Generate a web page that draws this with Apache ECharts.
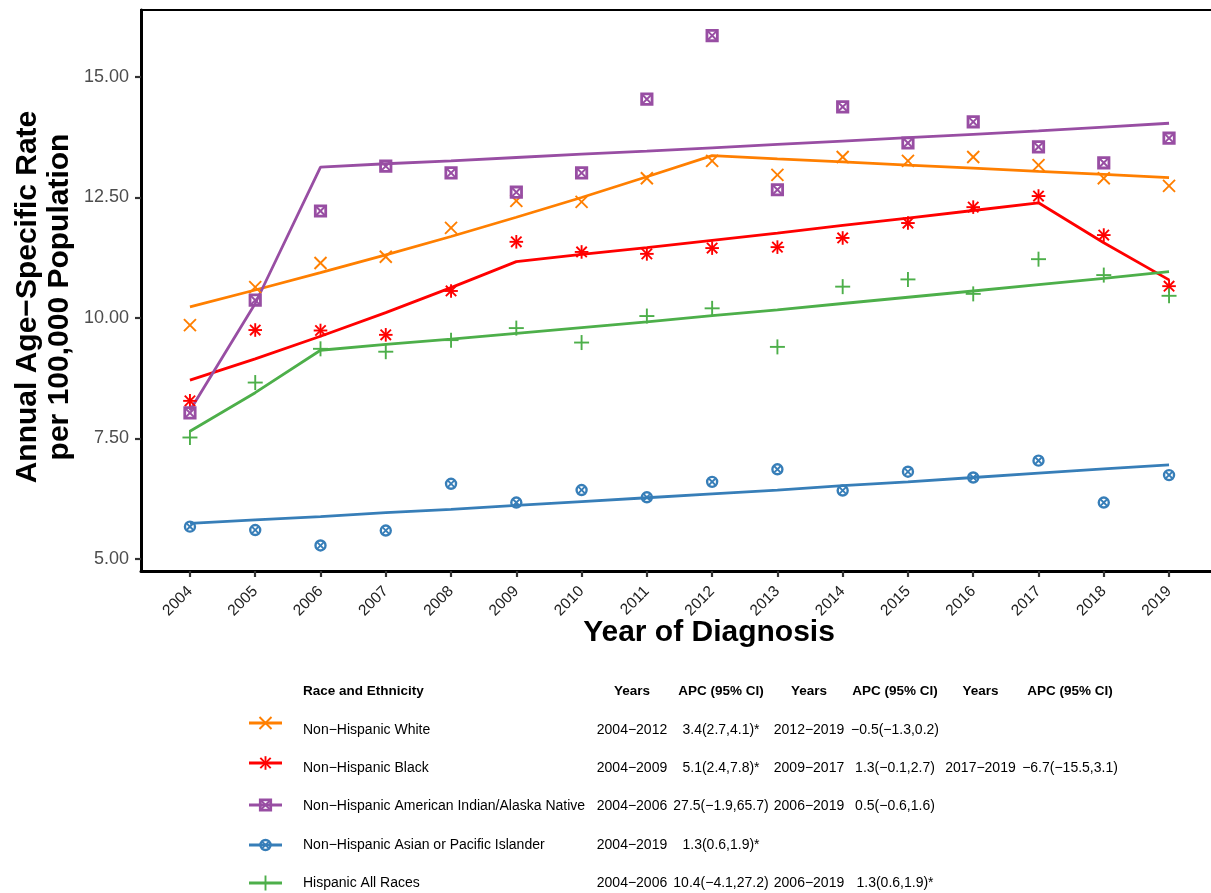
<!DOCTYPE html>
<html>
<head>
<meta charset="utf-8">
<script src="https://cdn.jsdelivr.net/npm/echarts@6/dist/echarts.min.js"></script>
<style>
  html, body { margin: 0; padding: 0; background: #fff; }
  #chart { width: 1211px; height: 893px; }
</style>
</head>
<body>
<div id="chart"></div>
<script>
// Years of diagnosis
const years = [2004, 2005, 2006, 2007, 2008, 2009, 2010, 2011, 2012, 2013, 2014, 2015, 2016, 2017, 2018, 2019];

// Observed annual age-specific rates per 100,000
const whiteRate = [9.85, 10.64, 11.14, 11.27, 11.87, 12.43, 12.41, 12.90, 13.26, 12.97, 13.34, 13.26, 13.34, 13.17, 12.90, 12.74];
const blackRate = [8.28, 9.75, 9.74, 9.65, 10.56, 11.58, 11.37, 11.33, 11.45, 11.47, 11.66, 11.97, 12.30, 12.53, 11.72, 10.66];
const aianRate  = [8.03, 10.37, 12.22, 13.15, 13.01, 12.61, 13.01, 14.54, 15.86, 12.66, 14.38, 13.63, 14.07, 13.55, 13.22, 13.73];
const apiRate   = [5.67, 5.60, 5.28, 5.59, 6.56, 6.17, 6.43, 6.28, 6.60, 6.86, 6.42, 6.81, 6.69, 7.04, 6.17, 6.74];
const hispRate  = [7.52, 8.66, 9.36, 9.30, 9.54, 9.79, 9.49, 10.04, 10.20, 9.40, 10.65, 10.80, 10.50, 11.22, 10.89, 10.46];

// Joinpoint-modelled rates
const whiteFit = [10.23, 10.58, 10.94, 11.31, 11.69, 12.09, 12.50, 12.93, 13.37, 13.30, 13.24, 13.17, 13.11, 13.04, 12.98, 12.91];
const blackFit = [8.71, 9.15, 9.62, 10.11, 10.63, 11.17, 11.32, 11.46, 11.61, 11.76, 11.92, 12.07, 12.23, 12.39, 11.56, 10.79];
const aianFit  = [8.08, 10.30, 13.13, 13.20, 13.26, 13.33, 13.40, 13.46, 13.53, 13.60, 13.67, 13.74, 13.81, 13.88, 13.96, 14.04];
const apiFit   = [5.74, 5.81, 5.88, 5.96, 6.03, 6.11, 6.19, 6.27, 6.35, 6.43, 6.52, 6.60, 6.69, 6.78, 6.87, 6.95];
const hispFit  = [7.65, 8.45, 9.33, 9.45, 9.56, 9.68, 9.80, 9.92, 10.05, 10.17, 10.30, 10.43, 10.56, 10.69, 10.82, 10.96];

// Axis ticks
const yTicks = [5, 7.5, 10, 12.5, 15];

// Legend / APC table rows
const groupNames = ['Non\u2212Hispanic White', 'Non\u2212Hispanic Black', 'Non\u2212Hispanic American Indian/Alaska Native', 'Non\u2212Hispanic Asian or Pacific Islander', 'Hispanic All Races'];
const seg1Years = ['2004\u22122012', '2004\u22122009', '2004\u22122006', '2004\u22122019', '2004\u22122006'];
const seg1Apc   = ['3.4(2.7,4.1)*', '5.1(2.4,7.8)*', '27.5(\u22121.9,65.7)', '1.3(0.6,1.9)*', '10.4(\u22124.1,27.2)'];
const seg2Years = ['2012\u22122019', '2009\u22122017', '2006\u22122019', '', '2006\u22122019'];
const seg2Apc   = ['\u22120.5(\u22121.3,0.2)', '1.3(\u22120.1,2.7)', '0.5(\u22120.6,1.6)', '', '1.3(0.6,1.9)*'];
const seg3Years = ['', '2017\u22122019', '', '', ''];
const seg3Apc   = ['', '\u22126.7(\u221215.5,3.1)', '', '', ''];
const headers   = ['Race and Ethnicity', 'Years', 'APC (95% CI)', 'Years', 'APC (95% CI)', 'Years', 'APC (95% CI)'];

const colors = ['#FF7F00', '#FF0000', '#984EA3', '#377EB8', '#4DAF4A'];
const shapes = ['x', 'asterisk', 'boxx', 'circx', 'plus'];
const observed = [whiteRate, blackRate, aianRate, apiRate, hispRate];
const fitted = [whiteFit, blackFit, aianFit, apiFit, hispFit];

const FONT = "'Liberation Sans', Arial, Helvetica, sans-serif";

function seg(x1, y1, x2, y2, color, w) {
  return { type: 'line', shape: { x1, y1, x2, y2 }, style: { stroke: color, lineWidth: w, fill: null } };
}

// Point glyphs in the style of R plotting symbols
function markerShapes(shape, color) {
  const out = [];
  if (shape === 'x') {
    const h = 6;
    out.push(seg(-h, -h, h, h, color, 1.9), seg(-h, h, h, -h, color, 1.9));
  } else if (shape === 'asterisk') {
    const h = 6.8, d = 5.2;
    out.push(seg(0, -h, 0, h, color, 1.9), seg(-h, 0, h, 0, color, 1.9));
    out.push(seg(-d, -d, d, d, color, 1.9), seg(-d, d, d, -d, color, 1.9));
  } else if (shape === 'boxx') {
    const h = 5.2;
    out.push({ type: 'rect', shape: { x: -h, y: -h, width: 2 * h, height: 2 * h }, style: { stroke: color, lineWidth: 2.8, fill: null } });
    out.push(seg(-h, -h, h, h, color, 2), seg(-h, h, h, -h, color, 2));
  } else if (shape === 'circx') {
    const r = 5, d = 3.6;
    out.push({ type: 'circle', shape: { cx: 0, cy: 0, r }, style: { stroke: color, lineWidth: 2.4, fill: null } });
    out.push(seg(-d, -d, d, d, color, 1.9), seg(-d, d, d, -d, color, 1.9));
  } else if (shape === 'plus') {
    const h = 7.5;
    out.push(seg(0, -h, 0, h, color, 1.9), seg(-h, 0, h, 0, color, 1.9));
  }
  return out;
}

const series = [];
groupNames.forEach((name, i) => {
  series.push({
    name: name,
    type: 'line',
    data: years.map((yr, k) => [yr, fitted[i][k]]),
    showSymbol: false,
    symbol: 'none',
    lineStyle: { color: colors[i], width: 2.8 },
    z: 2,
    silent: true,
    animation: false
  });
  series.push({
    name: name + ' observed',
    type: 'custom',
    data: years.map((yr, k) => [yr, observed[i][k]]),
    encode: { x: 0, y: 1 },
    z: 3,
    silent: true,
    animation: false,
    renderItem: function (params, api) {
      const p = api.coord([api.value(0), api.value(1)]);
      return { type: 'group', x: p[0], y: p[1], children: markerShapes(shapes[i], colors[i]) };
    }
  });
});

// APC table and legend keys
const graphics = [];
function txt(x, y, text, opts) {
  const o = Object.assign({ size: 14, weight: 'normal', align: 'left', color: '#000', rotation: 0 }, opts || {});
  return {
    type: 'text', x: x, y: y, rotation: o.rotation, silent: true,
    style: {
      text: text, fill: o.color,
      font: o.weight + ' ' + o.size + 'px ' + FONT,
      align: o.align, verticalAlign: 'middle',
      textAlign: o.align, textVerticalAlign: 'middle'
    }
  };
}

// Axis titles
graphics.push(txt(709, 633, 'Year of Diagnosis', { size: 30, weight: 'bold', align: 'center' }));
graphics.push(txt(28, 297, 'Annual Age\u2212Specific Rate', { size: 30, weight: 'bold', align: 'center', rotation: Math.PI / 2 }));
graphics.push(txt(60, 297, 'per 100,000 Population', { size: 30, weight: 'bold', align: 'center', rotation: Math.PI / 2 }));

const headerY = 691;
const headerX = [303, 632, 721, 809, 895, 980.5, 1070];
headers.forEach((h, j) => {
  graphics.push(txt(headerX[j], headerY, h, { size: 13.5, weight: 'bold', align: j === 0 ? 'left' : 'center' }));
});
const rowY = [730, 768, 806.5, 845, 883];
const keyY = [723, 763, 805, 845, 883];
groupNames.forEach((name, i) => {
  const y = rowY[i];
  graphics.push({
    type: 'group', x: 265.5, y: keyY[i], silent: true,
    children: [seg(-16.5, 0, 16.5, 0, colors[i], 2.8)].concat(markerShapes(shapes[i], colors[i]))
  });
  graphics.push(txt(303, y, name));
  const cells = [seg1Years[i], seg1Apc[i], seg2Years[i], seg2Apc[i], seg3Years[i], seg3Apc[i]];
  cells.forEach((c, j) => {
    if (c) graphics.push(txt(headerX[j + 1], y, c, { align: 'center' }));
  });
});

const chart = echarts.init(document.getElementById('chart'), null, { renderer: 'canvas' });
chart.setOption({
  backgroundColor: '#ffffff',
  animation: false,
  grid: {
    left: 141, top: 10, width: 1077, height: 561,
    show: true, borderColor: '#000', borderWidth: 2, backgroundColor: 'transparent',
    containLabel: false, outerBoundsMode: 'none'
  },
  xAxis: {
    type: 'value', min: 2003.25, max: 2019.75,
    axisLine: { show: true, onZero: false, lineStyle: { color: '#000', width: 3 } },
    axisTick: { show: true, customValues: years, length: 6, lineStyle: { color: '#333', width: 2.2 } },
    axisLabel: {
      customValues: years, rotate: 45, margin: 18, color: '#222222',
      fontFamily: FONT, fontSize: 15.5, formatter: v => String(v)
    },
    splitLine: { show: false }
  },
  yAxis: {
    type: 'value', min: 4.75, max: 16.39,
    axisLine: { show: true, onZero: false, lineStyle: { color: '#000', width: 3 } },
    axisTick: { show: true, customValues: yTicks, length: 6, lineStyle: { color: '#333', width: 2.2 } },
    axisLabel: {
      customValues: yTicks, margin: 12, color: '#4D4D4D',
      fontFamily: FONT, fontSize: 18, formatter: v => Number(v).toFixed(2)
    },
    splitLine: { show: false }
  },
  graphic: { elements: graphics },
  series: series
});
</script>
</body>
</html>
